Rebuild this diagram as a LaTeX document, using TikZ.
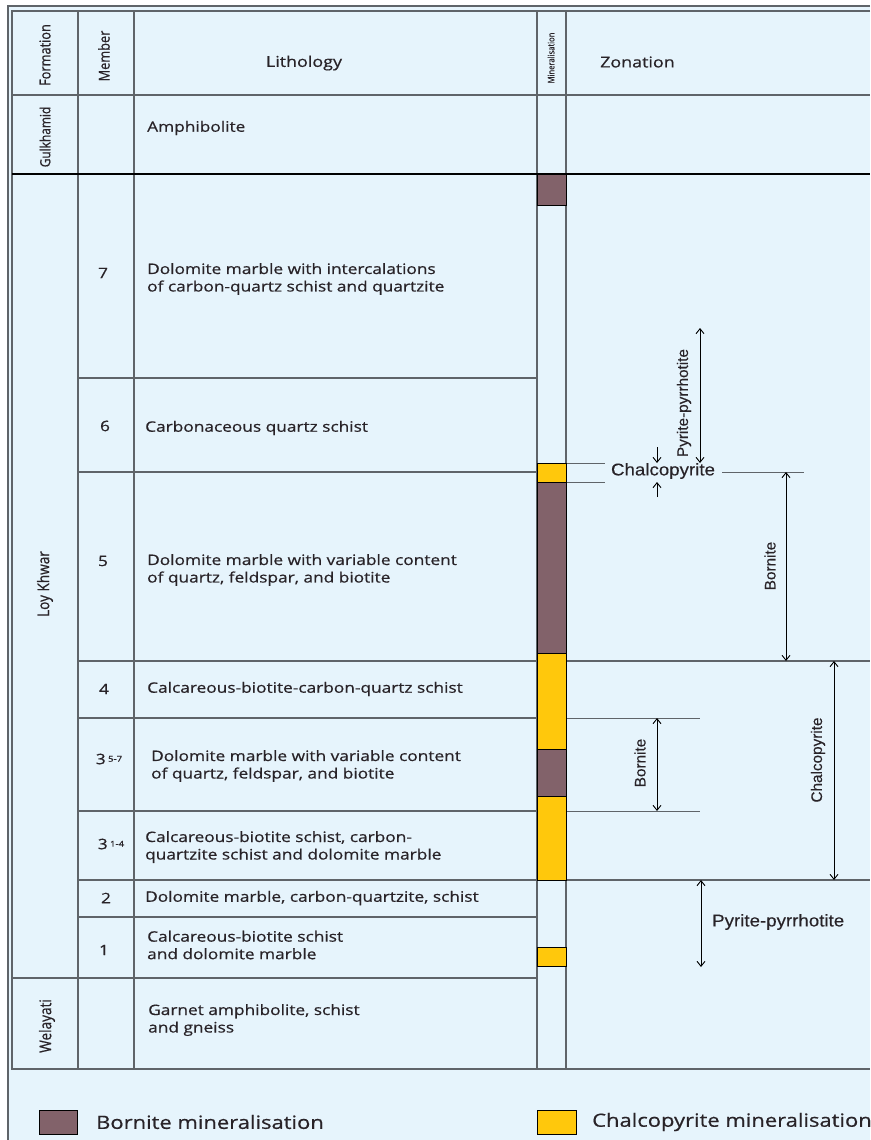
\documentclass[tikz,border=0pt]{standalone}
\usepackage{fontspec}
\setmainfont{Open Sans}[FakeStretch=1.2, FakeBold=0.6]
\newfontfamily\narrowfont{Open Sans}[FakeStretch=0.85, FakeBold=0.6]
\newfontfamily\zonefont{Liberation Sans}[FakeBold=0.3]
\newfontfamily\zonewidefont{Liberation Sans}[FakeStretch=1.1, FakeBold=0.3]
\usetikzlibrary{arrows.meta}
\definecolor{bgBlue}{RGB}{230,244,252}
\definecolor{gridGray}{RGB}{95,100,105}
\definecolor{borniteCol}{RGB}{130,98,106}
\definecolor{chalcoCol}{RGB}{255,200,12}
\definecolor{textCol}{RGB}{40,35,40}

\begin{document}
\begin{tikzpicture}[x=1pt,y=-1pt, every node/.style={text=textCol},
    grid/.style={gridGray, line width=1.3pt},
    thin grid/.style={gridGray, line width=0.9pt},
    litho/.style={anchor=west, align=left, inner sep=0pt, font=\fontsize{14.4}{17.5}\selectfont},
    member/.style={inner sep=0pt, font=\fontsize{14.4}{17}\selectfont},
    head/.style={inner sep=0pt, font=\fontsize{14.9}{17}\selectfont},
    vhead/.style={inner sep=0pt, rotate=90, font=\narrowfont\fontsize{15}{17}\selectfont},
    zone/.style={inner sep=0pt, font=\zonefont\fontsize{15.3}{17}\selectfont},
    hzone/.style={inner sep=0pt, font=\zonewidefont\fontsize{17}{19}\selectfont},
    span/.style={{Straight Barb[length=5pt,width=8pt]}-{Straight Barb[length=5pt,width=8pt]}, line width=0.9pt},
    tick/.style={-{Straight Barb[length=5pt,width=8pt]}, line width=0.9pt},
    bornite/.style={fill=borniteCol, draw=black, line width=0.9pt},
    chalco/.style={fill=chalcoCol, draw=black, line width=0.9pt}]
  \useasboundingbox (0,0) rectangle (870,1140);
  \fill[white] (0,0) rectangle (870,1140);
  \fill[bgBlue] (8,6) rectangle (870,1140);
  \draw[grid] (870,6) -- (8,6) -- (8,1140);

  % table frame and columns
  \draw[grid] (870,11) -- (12,11) -- (12,1069) -- (870,1069);
  \foreach \x in {78,134,537,566}
    \draw[grid] (\x,11) -- (\x,1069);
  \draw[grid] (12,95) -- (870,95);
  \draw[black, line width=1.3pt] (12,174) -- (870,174);
  \draw[grid] (12,978) -- (537,978);
  \foreach \y in {378,472,917}
    \draw[grid] (78,\y) -- (537,\y);
  \foreach \y in {661,880}
    \draw[grid] (78,\y) -- (870,\y);
  \foreach \y in {718,811} {
    \draw[grid] (78,\y) -- (537,\y);
    \draw[thin grid] (566,\y) -- (700,\y);
  }
  \draw[thin grid] (566,463) -- (605,463);
  \draw[thin grid] (566,482) -- (605,482);

  % mineralisation column
  \draw[bornite] (537,174) rectangle (566,205);
  \draw[chalco] (537,463) rectangle (566,482);
  \draw[bornite] (537,482) rectangle (566,653);
  \draw[chalco] (537,653) rectangle (566,749);
  \draw[bornite] (537,749) rectangle (566,796);
  \draw[chalco] (537,796) rectangle (566,880);
  \draw[chalco] (537,947) rectangle (566,966);

  % headers
  \node[vhead] (formation) at (45,55) {Formation};
  \node[vhead] (member) at (104,56) {Member};
  \node[head] (lithology) at (304,63) {Lithology};
  \node[vhead, font=\narrowfont\fontsize{9}{10}\selectfont] (mineral) at (551,58) {Mineralisation};
  \node[head, anchor=west] (zonation) at (600,62) {Zonation};

  % formations
  \node[vhead, font=\narrowfont\fontsize{14}{16}\selectfont] (gulkhamid) at (45,137) {Gulkhamid};
  \node[vhead, font=\narrowfont\fontsize{16}{18}\selectfont] (loykhwar) at (45,584) {Loy Khwar};
  \node[vhead, font=\narrowfont\fontsize{16}{18}\selectfont] (welayati) at (47,1026) {Welayati};

  % members
  \node[member] (m7) at (103,273) {7};
  \node[member] (m6) at (105,426) {6};
  \node[member] (m5) at (103,561) {5};
  \node[member] (m4) at (104,689) {4};
  \node[member] (m3b) at (109,759) {3\,{\fontsize{8}{9}\selectfont\raisebox{2.5pt}{5-7}}};
  \node[member] (m3a) at (111,844) {3\,{\fontsize{8}{9}\selectfont\raisebox{2.5pt}{1-4}}};
  \node[member] (m2) at (106,898) {2};
  \node[member] (m1) at (104,950) {1};

  % lithology
  \node[litho] (amph) at (147,128) {Amphibolite};
  \node[litho] (l7) at (147,279) {Dolomite marble with intercalations\\of carbon-quartz schist and quartzite};
  \node[litho] (l6) at (145,428) {Carbonaceous quartz schist};
  \node[litho] (l5) at (147,570) {Dolomite marble with variable content\\of quartz, feldspar, and biotite};
  \node[litho] (l4) at (147,689) {Calcareous-biotite-carbon-quartz schist};
  \node[litho] (l3b) at (151,766) {Dolomite marble with variable content\\of quartz, feldspar, and biotite};
  \node[litho] (l3a) at (145,847) {Calcareous-biotite schist, carbon-\\quartzite schist and dolomite marble};
  \node[litho] (l2) at (145,898) {Dolomite marble, carbon-quartzite, schist};
  \node[litho] (l1) at (147,945) {Calcareous-biotite schist\\and dolomite marble};
  \node[litho] (lw) at (148,1020) {Garnet amphibolite, schist\\and gneiss};

  % zonation
  \coordinate (pp1top) at (700,328);
  \coordinate (pp1bot) at (700,463);
  \draw[span] (pp1top) -- (pp1bot);
  \node[zone, rotate=90] (pp1) at (684,403) {Pyrite-pyrrhotite};
  \node[hzone] (cp1) at (663,471) {Chalcopyrite};
  \coordinate (cpin) at (657,447);
  \coordinate (cpout) at (657,497);
  \draw[tick] (cpin) -- (657,463);
  \draw[tick] (cpout) -- (657,482);
  \coordinate (cpline) at (804,472);
  \draw[thin grid] (722,472) -- (cpline);
  \coordinate (bn1top) at (786,472);
  \coordinate (bn1bot) at (786,661);
  \draw[span] (bn1top) -- (bn1bot);
  \node[zone, rotate=90] (bn1) at (770,566) {Bornite};
  \coordinate (bn2top) at (657,718);
  \coordinate (bn2bot) at (657,811);
  \draw[span] (bn2top) -- (bn2bot);
  \node[zone, rotate=90] (bn2) at (640,763) {Bornite};
  \coordinate (cp2top) at (834,661);
  \coordinate (cp2bot) at (834,880);
  \draw[span] (cp2top) -- (cp2bot);
  \node[zone, rotate=90] (cp2) at (818,760) {Chalcopyrite};
  \coordinate (pp2top) at (701,880);
  \coordinate (pp2bot) at (701,967);
  \draw[span] (pp2top) -- (pp2bot);
  \node[hzone, anchor=west] (pp2) at (712,922) {Pyrite-pyrrhotite};

  % legend
  \draw[bornite] (39,1110) rectangle (77,1134);
  \node[anchor=west, inner sep=0pt, font=\fontsize{18.3}{21}\selectfont] (legbn) at (96,1122) {Bornite mineralisation};
  \draw[chalco] (537,1110) rectangle (576,1134);
  \node[anchor=west, inner sep=0pt, font=\fontsize{18.3}{21}\selectfont] (legcp) at (592,1122) {Chalcopyrite mineralisation};
\end{tikzpicture}
\end{document}
